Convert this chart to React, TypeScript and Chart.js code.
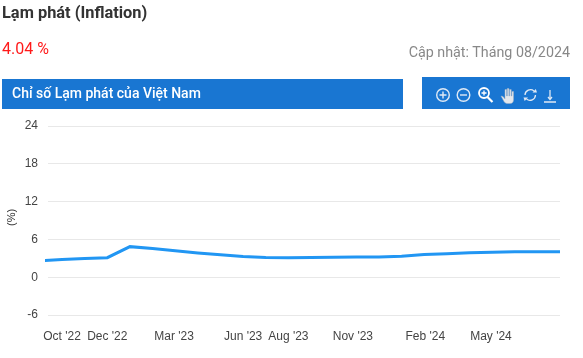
import React, { useEffect, useRef } from "react";
import { Chart, registerables } from "chart.js";

Chart.register(...registerables);

const monthIndex = [0, 1, 2, 3, 4, 5, 6, 7, 8, 9, 10, 11, 12, 13, 14, 15, 16, 17, 18, 19, 20, 21, 22, 23];
const inflation = [2.6, 2.8, 2.95, 3.1, 4.85, 4.55, 4.18, 3.84, 3.55, 3.29, 3.12, 3.1, 3.12, 3.16, 3.2, 3.22, 3.32, 3.6, 3.72, 3.87, 3.98, 4.02, 4.05, 4.04];
const tickMonths = [1, 3, 5.95, 9, 11, 13.85, 17.05, 19.95];
const tickLabels = ["Oct '22", "Dec '22", "Mar '23", "Jun '23", "Aug '23", "Nov '23", "Feb '24", "May '24"];
const yTicks = [-6, 0, 6, 12, 18, 24];

const iconStroke = "#dfe9f5";

function Icons() {
  return (
    <svg width="148" height="32" style={{ position: "absolute", left: 0, top: 0 }}>
      <g fill="none" stroke={iconStroke} strokeWidth="1.4">
        <circle cx="21" cy="18" r="6.3" />
        <path d="M21 14.5v7M17.5 18h7" />
        <circle cx="41.5" cy="18" r="6.3" />
        <path d="M38 18h7" />
      </g>
      <g fill="none" stroke="#ffffff" strokeWidth="1.8">
        <circle cx="62" cy="16" r="5" />
        <path d="M65.5 20l5 5" strokeWidth="2.2" />
        <path d="M59.5 16h5M62 13.500v5" strokeWidth="1.3" />
      </g>
      <path d="M79 19l3 5.500c1 1.500 2 2 4 2h2c2.500 0 3.500-1.500 3.500-4v-8h-1.600v4.500h-.7v-6.500h-1.600v6.500h-.7v-7.500h-1.600v7.500h-.7v-6.500h-1.600v9.500l-2-2.500z" fill="#e3e7ec" stroke="#9fb0c4" strokeWidth="0.5" />
      <g fill="none" stroke={iconStroke} strokeWidth="1.3">
        <path d="M103 18a5.500 5.500 0 0 1 9-4M113.500 18a5.500 5.500 0 0 1-9 4" />
      </g>
      <path d="M110.500 15.500h4.500l-1.200-3.500zM106 20.500h-4.500l1.200 3.500z" fill={iconStroke} />
      <g fill="none" stroke={iconStroke} strokeWidth="1.3">
        <path d="M128 13v9M122 25h12" />
        <path d="M126 20l2 2.500 2-2.500" />
      </g>
    </svg>
  );
}

export default function App() {
  const canvasRef = useRef<HTMLCanvasElement>(null);

  useEffect(() => {
    const chart = new Chart(canvasRef.current!, {
      type: "line",
      data: {
        datasets: [
          {
            data: monthIndex.map((m, i) => ({ x: m, y: inflation[i] })),
            borderColor: "#2196f3",
            borderWidth: 3,
            pointRadius: 0,
            tension: 0,
            clip: { left: 3, right: 0, top: 0, bottom: 0 } as any,
          },
        ],
      },
      options: {
        responsive: false,
        animation: false,
        layout: { padding: { left: 0, right: 23, top: 126, bottom: 0 } },
        plugins: { legend: { display: false }, tooltip: { enabled: false } },
        scales: {
          x: {
            type: "linear",
            min: 0.38,
            max: 23,
            grid: { display: false },
            border: { display: false },
            afterBuildTicks: (axis: any) => {
              axis.ticks = tickMonths.map((value) => ({ value }));
            },
            afterFit: (axis: any) => {
              axis.height = 43;
            },
            ticks: {
              autoSkip: false,
              maxRotation: 0,
              padding: 6,
              color: "#444444",
              font: { family: "Liberation Sans", size: 12 },
              callback: (value: any) => tickLabels[tickMonths.indexOf(Number(value))],
            },
          },
          y: {
            min: -6,
            max: 24,
            afterBuildTicks: (axis: any) => {
              axis.ticks = yTicks.map((value) => ({ value }));
            },
            grid: { color: "#e8e8e8", drawTicks: false, lineWidth: 1 },
            border: { display: false },
            ticks: {
              padding: 10,
              color: "#444444",
              font: { family: "Liberation Sans", size: 12 },
            },
            afterFit: (axis: any) => {
              axis.width = 48;
            },
          },
        },
      },
    });
    return () => chart.destroy();
  }, []);

  const root: React.CSSProperties = {
    position: "absolute",
    left: 0,
    top: 0,
    width: 583,
    height: 358,
    background: "#fff",
    overflow: "hidden",
    fontFamily: "Roboto",
  };
  const abs: React.CSSProperties = { position: "absolute", whiteSpace: "nowrap" };

  return (
    <div style={root}>
      <canvas ref={canvasRef} width={583} height={358} style={{ position: "absolute", left: 0, top: 0, display: "block" }} />
      <div style={{ ...abs, left: 2, top: 3, fontSize: 16.4, fontWeight: 700, lineHeight: "19px", color: "#333" }}>Lạm phát (Inflation)</div>
      <div style={{ ...abs, left: 2, top: 39, fontSize: 16, lineHeight: "20px", color: "#ff1a1a" }}>4.04 %</div>
      <div style={{ ...abs, right: 13, top: 42, fontSize: 14.3, lineHeight: "20px", color: "#888888" }}>Cập nhật: Tháng 08/2024</div>
      <div style={{ ...abs, left: 2, top: 79, width: 401, height: 30, background: "#1976d2" }}>
        <div style={{ ...abs, left: 10, top: 4, fontSize: 14, fontWeight: 500, lineHeight: "20px", color: "#ffffff" }}>Chỉ số Lạm phát của Việt Nam</div>
      </div>
      <div style={{ ...abs, left: 422, top: 77, width: 148, height: 32, background: "#1976d2" }}>
        <Icons />
      </div>
      <div style={{ ...abs, left: 3, top: 210, width: 16, height: 16, fontFamily: "Liberation Sans", fontSize: 11, lineHeight: "16px", color: "#333", textAlign: "center", transform: "rotate(-90deg)" }}>(%)</div>
    </div>
  );
}
